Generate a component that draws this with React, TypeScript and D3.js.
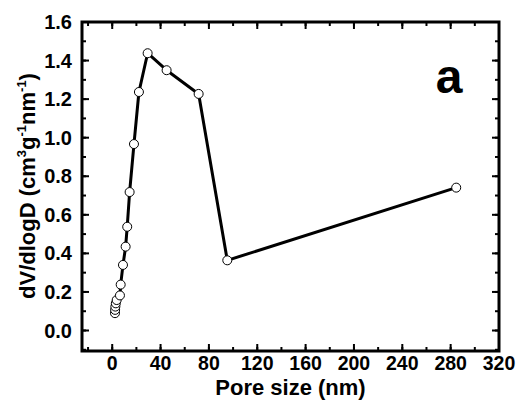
import React from "react";
import * as d3 from "d3";

const poreSize = [2.3, 2.4, 2.6, 3.0, 3.7, 6.4, 7.0, 8.9, 11.1, 12.4, 14.4, 18.0, 22.1, 29.3, 45.0, 71.5, 95.2, 284.6];
const dVdlogD = [0.09, 0.107, 0.124, 0.141, 0.158, 0.182, 0.238, 0.34, 0.435, 0.538, 0.718, 0.967, 1.237, 1.438, 1.35, 1.227, 0.364, 0.741];
const xTickValues = [0, 40, 80, 120, 160, 200, 240, 280, 320];
const xMinorValues = [-20, 0, 20, 40, 60, 80, 100, 120, 140, 160, 180, 200, 220, 240, 260, 280, 300, 320];
const yTickValues = [0, 0.2, 0.4, 0.6, 0.8, 1.0, 1.2, 1.4, 1.6];
const yMinorValues = [-0.1, 0, 0.1, 0.2, 0.3, 0.4, 0.5, 0.6, 0.7, 0.8, 0.9, 1.0, 1.1, 1.2, 1.3, 1.4, 1.5, 1.6];
const panelLabel = "a";
const xTitle = "Pore size (nm)";

const W = 521, H = 408;
const L = 82, R = 499, T = 22, B = 351;
const FONT = "'Liberation Sans', Arial, Helvetica, sans-serif";

export default function App() {
  const x = d3.scaleLinear().domain([-25, 320]).range([L, R]);
  const y = d3.scaleLinear().domain([-0.1063, 1.6]).range([B, T]);
  const pts = poreSize.map((v, i) => [v, dVdlogD[i]] as [number, number]);
  const line = d3.line<[number, number]>().x(d => x(d[0])).y(d => y(d[1]));
  const fmt = d3.format(".1f");
  return (
    <svg width={W} height={H} style={{ position: "absolute", left: 0, top: 0, background: "#fff" }} fontFamily={FONT}>
      <rect x={0} y={0} width={W} height={H} fill="#fff" />
      {xMinorValues.map(v => (
        <g key={"xm" + v}>
          <line x1={x(v)} x2={x(v)} y1={B} y2={B - 4} stroke="#000" strokeWidth={2} />
          <line x1={x(v)} x2={x(v)} y1={T} y2={T + 4} stroke="#000" strokeWidth={2} />
        </g>
      ))}
      {xTickValues.map(v => (
        <g key={"xM" + v}>
          <line x1={x(v)} x2={x(v)} y1={B} y2={B - 7} stroke="#000" strokeWidth={2} />
          <line x1={x(v)} x2={x(v)} y1={T} y2={T + 7} stroke="#000" strokeWidth={2} />
          <text x={x(v)} y={370} textAnchor="middle" fontSize={19.5} fontWeight="bold">{v}</text>
        </g>
      ))}
      {yMinorValues.map(v => (
        <g key={"ym" + v}>
          <line x1={L} x2={L + 4} y1={y(v)} y2={y(v)} stroke="#000" strokeWidth={2} />
          <line x1={R} x2={R - 4} y1={y(v)} y2={y(v)} stroke="#000" strokeWidth={2} />
        </g>
      ))}
      {yTickValues.map(v => (
        <g key={"yM" + v}>
          <line x1={L} x2={L + 7} y1={y(v)} y2={y(v)} stroke="#000" strokeWidth={2} />
          <line x1={R} x2={R - 7} y1={y(v)} y2={y(v)} stroke="#000" strokeWidth={2} />
          <text x={72} y={y(v) + 7} textAnchor="end" fontSize={20} fontWeight="bold">{fmt(v)}</text>
        </g>
      ))}
      <rect x={L} y={T} width={R - L} height={B - T} fill="none" stroke="#000" strokeWidth={3} />
      <path d={line(pts) || ""} fill="none" stroke="#000" strokeWidth={3} strokeLinejoin="round" />
      {pts.map((p, i) => (
        <circle key={i} cx={x(p[0])} cy={y(p[1])} r={4.5} fill="#fff" stroke="#000" strokeWidth={1} />
      ))}
      <text x={449} y={93} textAnchor="middle" fontSize={48} fontWeight="bold">{panelLabel}</text>
      <text x={290.5} y={395} textAnchor="middle" fontSize={22} fontWeight="bold">{xTitle}</text>
      <text transform="translate(35,186) rotate(-90)" textAnchor="middle" fontSize={22} fontWeight="bold">
        <tspan>dV/dlogD (cm</tspan>
        <tspan fontSize={13} dy={-9}>3</tspan>
        <tspan dy={9}>g</tspan>
        <tspan fontSize={13} dy={-9}>-1</tspan>
        <tspan dy={9}>nm</tspan>
        <tspan fontSize={13} dy={-9}>-1</tspan>
        <tspan dy={9}>)</tspan>
      </text>
    </svg>
  );
}
